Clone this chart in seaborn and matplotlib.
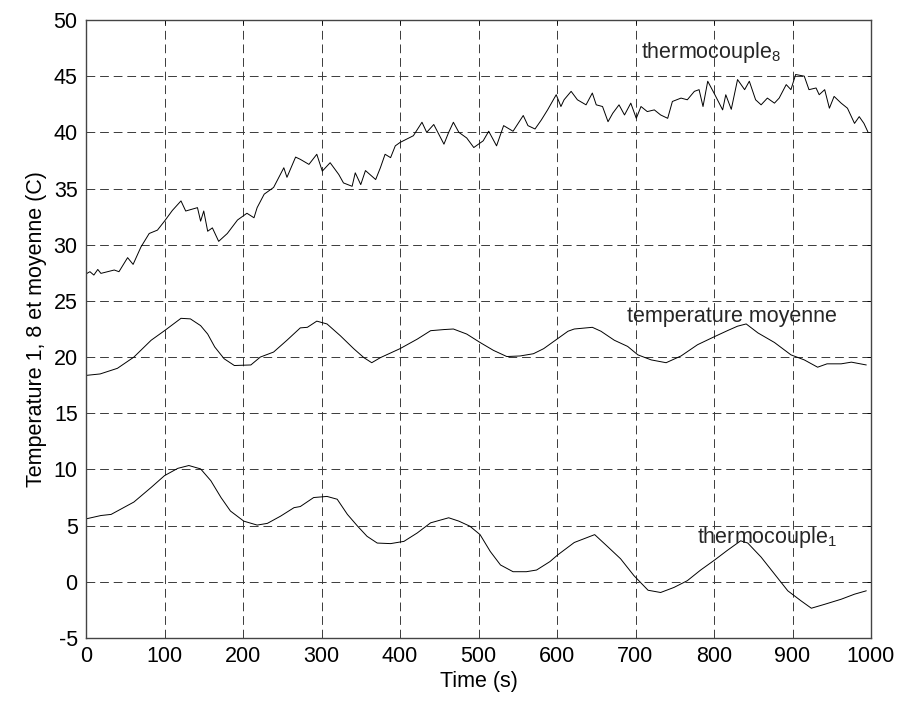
import numpy as np
import pandas as pd
import matplotlib
matplotlib.use("Agg")
import matplotlib.pyplot as plt
import seaborn as sns

# ---- data ----
t_tc8 = [0, 5, 10, 15, 19, 36, 42, 53, 60, 70, 80.5, 91, 100, 110, 121, 127, 142, 146, 150, 155,
         161, 169, 180, 193, 205, 214, 218, 227, 239, 252, 256, 267, 273, 284, 294, 301, 311, 322,
         328, 339, 343, 350, 356, 369, 375, 381, 388, 394, 400, 417, 428, 434, 443, 456, 462, 468,
         475, 485, 494, 506, 513, 523, 532, 544, 557, 563, 572, 580, 588, 599, 605, 609, 618,
         626, 637, 645, 650, 658, 665, 671, 679, 686, 694, 701, 707, 715, 724, 732, 741, 747,
         758, 766, 775, 781, 786, 792, 800, 811, 815, 822, 830, 839, 845, 853, 860, 868, 877,
         883, 892, 898, 904, 915, 921, 930, 934, 941, 947, 953, 962, 970, 979, 985, 991, 996]
y_tc8 = [27.4, 27.6, 27.3, 27.8, 27.45, 27.75, 27.6, 28.85, 28.25, 29.8, 31.0, 31.3, 32.1, 33.05,
         33.9, 33.0, 33.3, 32.1, 33.0, 31.2, 31.5, 30.3, 31.0, 32.2, 32.8, 32.4, 33.3, 34.5, 35.1,
         36.85, 36.0, 37.8, 37.6, 37.15, 38.05, 36.55, 37.3, 36.25, 35.5, 35.2, 36.4, 35.35, 36.6,
         35.8, 36.85, 38.05, 37.75, 38.8, 39.1, 39.7, 40.9, 40.0, 40.7, 38.95, 40.0, 40.9, 40.0,
         39.5, 38.65, 39.25, 40.1, 38.8, 40.6, 40.1, 41.5, 40.6, 40.3, 41.1, 42.0, 43.35, 42.3,
         42.9, 43.65, 42.9, 42.45, 43.5, 42.45, 42.3, 40.95, 41.7, 42.45, 41.55, 42.6, 41.25, 42.3,
         41.85, 42.0, 41.55, 41.25, 42.75, 43.05, 42.9, 43.65, 43.8, 42.3, 44.55, 43.5, 42.0, 43.35,
         42.05, 44.7, 43.8, 44.55, 42.9, 42.45, 43.05, 42.6, 43.05, 44.25, 43.8, 45.15, 45.0, 43.8,
         43.95, 43.35, 43.8, 42.15, 43.2, 42.6, 42.15, 40.8, 41.4, 40.8, 40.05]

t_moy = [0, 18, 40, 61, 83, 100, 121, 133, 146, 155, 164, 176, 189, 210, 222, 239, 256, 273, 282,
         294, 307, 324, 341, 354, 364, 375, 400, 422, 439, 456, 468, 485, 502, 519, 536, 553, 570,
         583, 599, 614, 622, 645, 656, 673, 690, 703, 720, 739, 758, 779, 800, 817, 830, 841, 856,
         877, 898, 915, 932, 944, 962, 975, 994]
y_moy = [18.37, 18.5, 19.0, 20.0, 21.5, 22.35, 23.45, 23.4, 22.8, 22.05, 20.9, 19.85, 19.25, 19.3,
         20.0, 20.45, 21.5, 22.6, 22.65, 23.2, 22.95, 21.9, 20.75, 19.95, 19.5, 19.95, 20.75, 21.6,
         22.35, 22.45, 22.5, 22.05, 21.3, 20.6, 20.05, 20.1, 20.3, 20.75, 21.55, 22.3, 22.5, 22.65,
         22.3, 21.5, 20.95, 20.2, 19.75, 19.5, 20.1, 21.1, 21.8, 22.35, 22.75, 22.95, 22.15, 21.3,
         20.2, 19.75, 19.1, 19.4, 19.4, 19.55, 19.3]

t_tc1 = [0, 19, 32, 61, 83, 100, 117, 131, 146, 159, 172, 184, 201, 218, 231, 248, 265, 273, 290,
         307, 320, 333, 346, 358, 371, 388, 405, 422, 439, 462, 475, 489, 502, 515, 528, 544, 561,
         574, 591, 601, 622, 648, 665, 681, 698, 716, 732, 749, 766, 783, 800, 817, 834, 843, 860,
         877, 894, 911, 924, 941, 962, 979, 994]
y_tc1 = [5.6, 5.9, 6.0, 7.1, 8.4, 9.45, 10.1, 10.35, 10.05, 9.0, 7.5, 6.3, 5.4, 5.05, 5.2, 5.85,
         6.6, 6.7, 7.5, 7.6, 7.35, 6.0, 4.95, 4.05, 3.45, 3.4, 3.6, 4.35, 5.25, 5.7, 5.4, 4.95, 4.2,
         2.7, 1.5, 0.9, 0.9, 1.05, 1.8, 2.4, 3.5, 4.2, 3.1, 2.05, 0.55, -0.75, -0.95, -0.5, 0.1,
         1.05, 1.9, 2.8, 3.65, 3.45, 2.2, 0.7, -0.8, -1.7, -2.35, -2.0, -1.55, -1.1, -0.8]

x_ticks = [0, 100, 200, 300, 400, 500, 600, 700, 800, 900, 1000]
y_ticks = [-5, 0, 5, 10, 15, 20, 25, 30, 35, 40, 45, 50]
x_label = "Time (s)"
y_label = "Temperature 1, 8 et moyenne (C)"

# ---- plot ----
sns.set_style("white")
plt.rcParams['font.family'] = ['Liberation Sans', 'DejaVu Sans']
plt.rcParams['mathtext.fontset'] = 'custom'
plt.rcParams['mathtext.rm'] = 'Liberation Sans'
plt.rcParams['mathtext.it'] = 'Liberation Sans'

fig = plt.figure(figsize=(9.01, 7.04), dpi=100)
ax = fig.add_axes([86 / 901, 1 - 638 / 704, (871 - 86) / 901, (638 - 20) / 704])

for tx, ty in [(t_tc8, y_tc8), (t_moy, y_moy), (t_tc1, y_tc1)]:
    df = pd.DataFrame({"t": tx, "y": ty})
    sns.lineplot(data=df, x="t", y="y", ax=ax, color="black", linewidth=0.7,
                 estimator=None, sort=False)

ax.set_xlim(0, 1000)
ax.set_ylim(-5, 50)
ax.set_xticks(x_ticks)
ax.set_yticks(y_ticks)
ax.set_xticklabels([str(v) for v in x_ticks])
ax.set_yticklabels([str(v) for v in y_ticks])
ax.tick_params(axis="both", which="both", direction="in", length=3, width=0.6,
               labelsize=15.5, top=True, right=True, colors="black", pad=6)
ax.set_xlabel(x_label, fontsize=15.5, color="black", labelpad=3)
ax.set_ylabel(y_label, fontsize=15.5, color="black", labelpad=5)

ax.grid(True, which="major", color="#3a3a3a", linestyle=(0, (9, 5)), linewidth=0.7)
for s in ax.spines.values():
    s.set_visible(True)
    s.set_color("#444444")
    s.set_linewidth(1.0)

ax.text(707, 47.1, r"thermocouple$_{\mathrm{8}}$", fontsize=15.5, va="center", ha="left")
ax.text(689, 23.6, "temperature moyenne", fontsize=15.5, va="center", ha="left")
ax.text(778, 3.97, r"thermocouple$_{\mathrm{1}}$", fontsize=15.5, va="center", ha="left")

fig.savefig("out.png", dpi=100, facecolor="white")
